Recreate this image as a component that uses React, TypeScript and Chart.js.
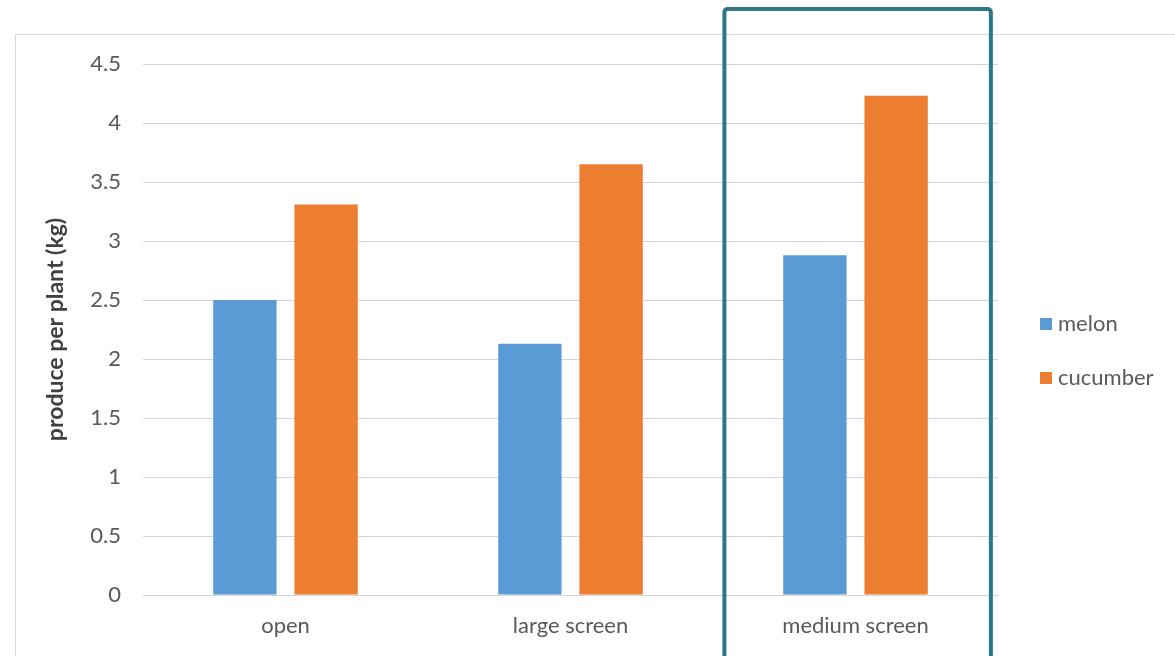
import React, { useEffect, useRef } from "react";
import { Chart, registerables } from "chart.js";

Chart.register(...registerables);

// Produce per plant by growing condition
const categories: string[] = ["open", "large screen", "medium screen"];
const melonValues: number[] = [2.5, 2.13, 2.88];
const cucumberValues: number[] = [3.31, 3.65, 4.23];
const seriesNames: string[] = ["melon", "cucumber"];
const yTicks = { min: 0, max: 4.5, step: 0.5 };
const yTitle = "produce per plant (kg)";
const highlightIndex = 2;

const FONT = "Lato, 'Open Sans', sans-serif";
const TEXT_GREY = "#595959";

// outer chart frame, drawn behind everything
const framePlugin = {
  id: "frame",
  beforeDraw(chart: Chart) {
    const { ctx } = chart;
    ctx.save();
    ctx.fillStyle = "#ffffff";
    ctx.fillRect(0, 0, chart.width, chart.height);
    ctx.strokeStyle = "#d9d9d9";
    ctx.lineWidth = 1;
    ctx.strokeRect(15.5, 34.5, chart.width + 20, chart.height + 20);
    ctx.restore();
  },
};

// legend laid out to the right of the plot
const sideLegendPlugin = {
  id: "sideLegend",
  afterDraw(chart: Chart) {
    const { ctx } = chart;
    ctx.save();
    ctx.font = `22px ${FONT}`;
    ctx.textBaseline = "middle";
    ctx.textAlign = "left";
    chart.data.datasets.forEach((ds: any, i: number) => {
      const cy = 324 + i * 54;
      ctx.fillStyle = ds.backgroundColor as string;
      ctx.fillRect(1040, cy - 6, 12, 12);
      ctx.fillStyle = TEXT_GREY;
      ctx.fillText(ds.label as string, 1058, cy);
    });
    ctx.restore();
  },
};

// rounded outline around the highlighted category
const highlightPlugin = {
  id: "highlight",
  afterDraw(chart: Chart) {
    const x = chart.scales.x;
    const area = chart.chartArea;
    const catW = (area.right - area.left) / categories.length;
    const cx = x.getPixelForValue(highlightIndex);
    const left = cx - catW * 0.46;
    const right = cx + catW * 0.475;
    const top = area.top - 55;
    const bottom = chart.height + 10;
    const { ctx } = chart;
    ctx.save();
    ctx.strokeStyle = "#2E7886";
    ctx.lineWidth = 4;
    ctx.beginPath();
    if ((ctx as any).roundRect) {
      (ctx as any).roundRect(left, top, right - left, bottom - top, 3);
    } else {
      ctx.rect(left, top, right - left, bottom - top);
    }
    ctx.stroke();
    ctx.restore();
  },
};

export default function App() {
  const canvasRef = useRef<HTMLCanvasElement | null>(null);

  useEffect(() => {
    if (!canvasRef.current) return;
    const chart = new Chart(canvasRef.current, {
      type: "bar",
      data: {
        labels: categories,
        datasets: [
          {
            label: seriesNames[0],
            data: melonValues,
            backgroundColor: "#5B9BD5",
            categoryPercentage: 0.57,
            barPercentage: 0.78,
          },
          {
            label: seriesNames[1],
            data: cucumberValues,
            backgroundColor: "#ED7D31",
            categoryPercentage: 0.57,
            barPercentage: 0.78,
          },
        ],
      },
      options: {
        responsive: false,
        animation: false,
        layout: { padding: { top: 64, right: 177, left: 0, bottom: 0 } },
        plugins: {
          legend: { display: false },
          tooltip: { enabled: false },
        },
        scales: {
          x: {
            grid: { display: false, drawTicks: false },
            border: { display: true, color: "#d4d4d4", width: 1 },
            ticks: {
              color: TEXT_GREY,
              font: { family: FONT, size: 22 },
              padding: 18,
            },
            afterFit(scale: any) {
              scale.height = 61;
            },
          },
          y: {
            min: yTicks.min,
            max: yTicks.max,
            grid: { color: "#d4d4d4", lineWidth: 1, drawTicks: false },
            border: { display: false },
            ticks: {
              stepSize: yTicks.step,
              color: TEXT_GREY,
              font: { family: FONT, size: 22 },
              padding: 22,
              callback: (value: any) => String(Number(value)),
            },
            title: {
              display: true,
              text: yTitle,
              color: "#404040",
              font: { family: FONT, size: 23, weight: "bold" },
              padding: { top: 42, bottom: 0 },
            },
            afterFit(scale: any) {
              scale.width = 143;
            },
          },
        },
      },
      plugins: [framePlugin, highlightPlugin, sideLegendPlugin],
    });
    return () => chart.destroy();
  }, []);

  return (
    <div style={{ position: "absolute", left: 0, top: 0, width: 1175, height: 656 }}>
      <canvas ref={canvasRef} width={1175} height={656} />
    </div>
  );
}
